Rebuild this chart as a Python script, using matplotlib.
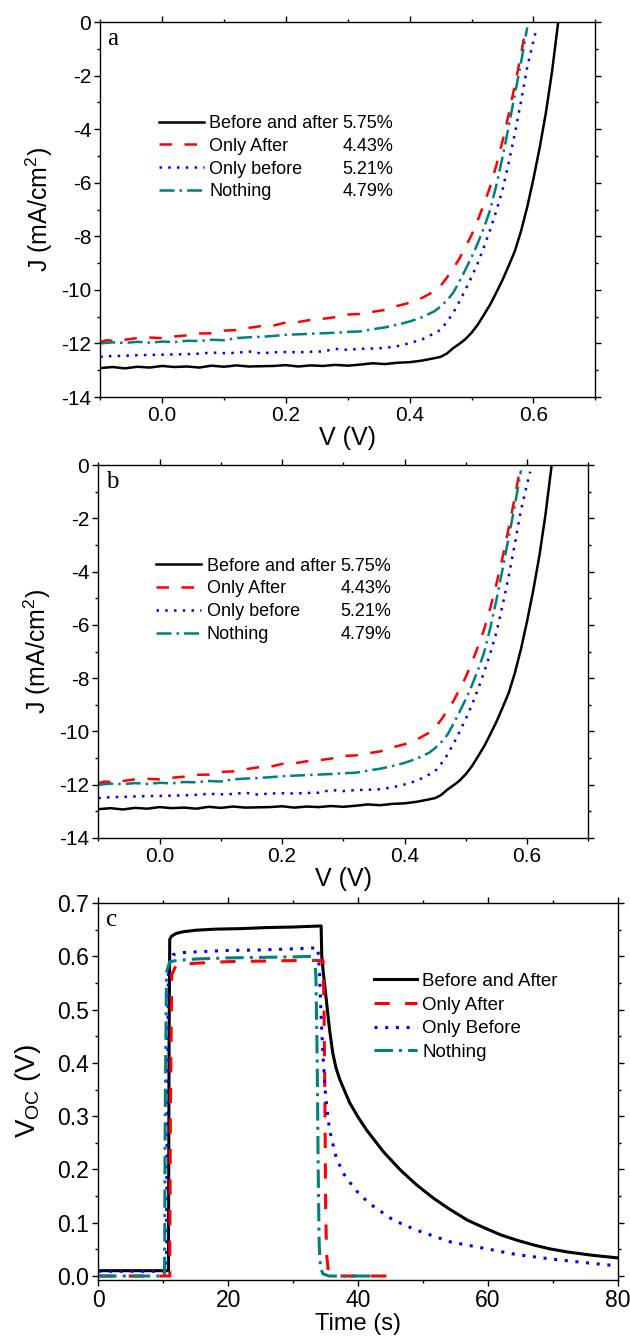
import matplotlib
matplotlib.use("Agg")
import matplotlib.pyplot as plt
from matplotlib.lines import Line2D
from matplotlib.ticker import MultipleLocator, FormatStrFormatter

plt.rcParams['font.family'] = ['Liberation Sans', 'DejaVu Sans']
plt.rcParams['mathtext.fontset'] = 'custom'
plt.rcParams['mathtext.rm'] = 'Liberation Sans'
plt.rcParams['mathtext.it'] = 'Liberation Sans:italic'
plt.rcParams['axes.unicode_minus'] = False

# ---------------- J-V data (panels a and b) ----------------
v_both = [-0.10, -0.08, -0.06, -0.04, -0.02, 0.00, 0.02, 0.04, 0.06, 0.08, 0.10, 0.12,
          0.14, 0.16, 0.18, 0.20, 0.22, 0.24, 0.26, 0.28, 0.30, 0.32, 0.34, 0.36, 0.38,
          0.40, 0.42, 0.44, 0.45, 0.46, 0.47, 0.48, 0.49, 0.50, 0.51, 0.52, 0.53, 0.54,
          0.55, 0.56, 0.57, 0.58, 0.59, 0.60, 0.61, 0.62, 0.63, 0.64]
j_both = [-12.92, -12.88, -12.93, -12.87, -12.90, -12.84, -12.88, -12.86, -12.90, -12.83,
          -12.87, -12.82, -12.86, -12.85, -12.84, -12.81, -12.86, -12.82, -12.84, -12.80,
          -12.83, -12.79, -12.74, -12.77, -12.72, -12.70, -12.64, -12.55, -12.50, -12.38,
          -12.18, -12.02, -11.84, -11.60, -11.30, -10.93, -10.55, -10.10, -9.63, -9.10,
          -8.55, -7.80, -6.90, -5.85, -4.70, -3.40, -1.85, 0.00]

v_after = [-0.10, -0.09, -0.08, -0.07, -0.06, -0.04, -0.02, 0.00, 0.02, 0.04, 0.06, 0.08,
           0.10, 0.12, 0.14, 0.16, 0.18, 0.20, 0.22, 0.24, 0.26, 0.28, 0.30, 0.32, 0.34,
           0.36, 0.38, 0.40, 0.42, 0.44, 0.45, 0.46, 0.47, 0.48, 0.49, 0.50, 0.51, 0.52,
           0.53, 0.54, 0.55, 0.56, 0.57, 0.58, 0.587]
j_after = [-11.95, -11.88, -11.90, -11.82, -11.86, -11.80, -11.78, -11.80, -11.74, -11.70,
           -11.63, -11.62, -11.52, -11.50, -11.42, -11.35, -11.33, -11.22, -11.20, -11.12,
           -11.08, -11.02, -10.92, -10.90, -10.82, -10.75, -10.60, -10.48, -10.30, -10.05,
           -9.85, -9.55, -9.20, -8.85, -8.40, -7.95, -7.40, -6.80, -6.15, -5.35, -4.45,
           -3.45, -2.35, -1.20, -0.30]

v_before = [-0.10, -0.08, -0.06, -0.04, -0.02, 0.00, 0.02, 0.04, 0.06, 0.08, 0.10, 0.12,
            0.14, 0.16, 0.18, 0.20, 0.22, 0.24, 0.26, 0.28, 0.30, 0.32, 0.34, 0.36, 0.38,
            0.40, 0.42, 0.44, 0.45, 0.46, 0.47, 0.48, 0.49, 0.50, 0.51, 0.52, 0.53, 0.54,
            0.55, 0.56, 0.57, 0.58, 0.59, 0.60, 0.605]
j_before = [-12.50, -12.47, -12.46, -12.44, -12.43, -12.42, -12.41, -12.40, -12.38, -12.34,
            -12.36, -12.35, -12.30, -12.37, -12.33, -12.32, -12.33, -12.31, -12.30, -12.20,
            -12.24, -12.20, -12.19, -12.17, -12.10, -11.99, -11.85, -11.62, -11.49, -11.20,
            -10.87, -10.45, -10.00, -9.52, -9.00, -8.40, -7.76, -7.05, -6.27, -5.25, -4.16,
            -2.95, -1.68, -0.70, -0.25]

v_none = [-0.10, -0.08, -0.06, -0.04, -0.02, 0.00, 0.02, 0.04, 0.06, 0.08, 0.10, 0.12,
          0.14, 0.16, 0.18, 0.20, 0.22, 0.24, 0.26, 0.28, 0.30, 0.32, 0.34, 0.36, 0.38,
          0.40, 0.42, 0.44, 0.45, 0.46, 0.47, 0.48, 0.49, 0.50, 0.51, 0.52, 0.53, 0.54,
          0.55, 0.56, 0.57, 0.58, 0.59]
j_none = [-12.00, -11.96, -11.98, -11.94, -11.97, -11.93, -11.95, -11.90, -11.91, -11.86,
          -11.88, -11.80, -11.77, -11.75, -11.72, -11.68, -11.66, -11.64, -11.62, -11.60,
          -11.57, -11.55, -11.47, -11.40, -11.30, -11.18, -11.02, -10.80, -10.62, -10.40,
          -10.12, -9.70, -9.25, -8.78, -8.26, -7.68, -7.02, -6.10, -5.05, -3.90, -2.70,
          -1.50, -0.20]

jv_names = ['Before and after', 'Only After', 'Only before', 'Nothing']
jv_pce = ['5.75%', '4.43%', '5.21%', '4.79%']

# ---------------- Voc transient data (panel c) ----------------
t_both = [0, 5, 10.8, 10.9, 11.0, 11.3, 12, 13, 15, 18, 22, 26, 30, 34.3, 34.4, 34.6,
          35.1, 35.6, 36.1, 36.6, 37.2, 38.0, 38.7, 40.0, 41.3, 43.9, 46.5, 49.0, 51.6,
          54.0, 56.8, 59.5, 62.0, 64.5, 67.1, 69.5, 72.3, 76.0, 80]
voc_both = [0.010, 0.010, 0.010, 0.45, 0.632, 0.638, 0.643, 0.646, 0.649, 0.651, 0.652,
            0.654, 0.655, 0.657, 0.60, 0.574, 0.518, 0.462, 0.418, 0.390, 0.368, 0.345,
            0.325, 0.298, 0.274, 0.233, 0.199, 0.171, 0.146, 0.126, 0.105, 0.090, 0.077,
            0.067, 0.058, 0.051, 0.045, 0.039, 0.034]

t_after = [0, 11.0, 11.1, 11.3, 12, 15, 20, 25, 30, 34.6, 34.75, 34.9, 35.0, 35.15,
           35.4, 35.8, 36.5, 40, 46.2]
voc_after = [0.0, 0.0, 0.3, 0.565, 0.584, 0.587, 0.590, 0.591, 0.592, 0.592, 0.50, 0.30,
             0.12, 0.04, 0.01, 0.002, 0.0, 0.0, 0.0]

t_before = [0, 10.5, 10.6, 10.8, 11.5, 13, 16, 20, 25, 30, 33.8, 34.06, 34.3, 34.6, 35.0,
            35.6, 36.6, 37.7, 39.0, 40.3, 42.1, 45.4, 49.0, 54.2, 59.4, 64.5, 69.7, 75.0,
            80]
voc_before = [0.009, 0.009, 0.3, 0.58, 0.603, 0.607, 0.609, 0.611, 0.612, 0.614, 0.616,
              0.568, 0.486, 0.411, 0.336, 0.274, 0.223, 0.193, 0.171, 0.152, 0.133,
              0.105, 0.086, 0.064, 0.052, 0.040, 0.032, 0.025, 0.019]

t_none = [0, 10.2, 10.3, 10.5, 11, 12, 15, 20, 25, 30, 33.3, 33.5, 33.7, 33.85, 34.0,
          34.2, 34.6, 35.5, 43]
voc_none = [0.0, 0.0, 0.3, 0.57, 0.59, 0.592, 0.595, 0.597, 0.598, 0.599, 0.600, 0.56,
            0.40, 0.20, 0.06, 0.015, 0.004, 0.0, 0.0]

voc_names = ['Before and After', 'Only After', 'Only Before', 'Nothing']

# line styles (Origin look)
styles = [dict(color='black', ls='-'),
          dict(color='#ff0000', ls=(0, (5, 5))),
          dict(color='#0000ff', ls=(0, (1, 2.5))),
          dict(color='#008080', ls=(0, (6, 2, 1, 2)))]

fig = plt.figure(figsize=(6.3, 13.44), dpi=100)


def style_axes(ax):
    for s in ax.spines.values():
        s.set_linewidth(1.0)
    ax.tick_params(which='both', direction='out', top=True, right=True, width=1.0)
    ax.tick_params(which='major', length=4)
    ax.tick_params(which='minor', length=2.5)


def jv_panel(rect, letter):
    ax = fig.add_axes(rect)
    lines = []
    for (v, j), st in zip([(v_both, j_both), (v_after, j_after),
                           (v_before, j_before), (v_none, j_none)], styles):
        ln, = ax.plot(v, j, lw=1.8, **st)
        lines.append(ln)
    ax.set_xlim(-0.1, 0.7)
    ax.set_ylim(-14, 0)
    ax.xaxis.set_major_locator(MultipleLocator(0.2))
    ax.xaxis.set_minor_locator(MultipleLocator(0.1))
    ax.xaxis.set_major_formatter(FormatStrFormatter('%.1f'))
    ax.yaxis.set_major_locator(MultipleLocator(2))
    ax.yaxis.set_minor_locator(MultipleLocator(1))
    ax.tick_params(labelsize=15, pad=2.5)
    ax.set_xlabel('V (V)', fontsize=18, labelpad=1)
    ax.set_ylabel(r'J (mA/cm$^\mathrm{2}$)', fontsize=18, labelpad=4)
    style_axes(ax)
    ax.text(0.015, 0.985, letter, transform=ax.transAxes, ha='left', va='top',
            family='Liberation Serif', fontsize=18)
    blanks = [Line2D([], [], color='none') for _ in jv_pce]
    ax.legend(lines + blanks, jv_names + jv_pce, ncol=2, loc='upper left',
              bbox_to_anchor=(0.118, 0.752), frameon=False, fontsize=13,
              handlelength=2.5, handletextpad=0.3, borderpad=0, borderaxespad=0,
              labelspacing=0.32, columnspacing=-2.55)
    return ax


jv_panel([0.159, 0.7046, 0.786, 0.279], 'a')
jv_panel([0.156, 0.3765, 0.778, 0.2775], 'b')

# ---------------- panel c ----------------
axc = fig.add_axes([0.156, 0.0476, 0.825, 0.2805])
lines = []
for (t, v), st in zip([(t_both, voc_both), (t_after, voc_after),
                       (t_before, voc_before), (t_none, voc_none)], styles):
    ln, = axc.plot(t, v, lw=2.2, **st)
    lines.append(ln)
axc.set_xlim(0, 80)
axc.set_ylim(-0.0075, 0.7)
axc.xaxis.set_major_locator(MultipleLocator(20))
axc.xaxis.set_minor_locator(MultipleLocator(10))
axc.yaxis.set_major_locator(MultipleLocator(0.1))
axc.yaxis.set_minor_locator(MultipleLocator(0.05))
axc.yaxis.set_major_formatter(FormatStrFormatter('%.1f'))
axc.tick_params(labelsize=16.5, pad=2.5)
axc.set_xlabel('Time (s)', fontsize=17, labelpad=1)
axc.set_ylabel(r'V$_\mathrm{OC}$ (V)', fontsize=20, labelpad=10)
style_axes(axc)
axc.text(0.015, 0.985, 'c', transform=axc.transAxes, ha='left', va='top',
         family='Liberation Serif', fontsize=18)
axc.legend(lines, voc_names, loc='upper left', bbox_to_anchor=(0.53, 0.815),
           frameon=False, fontsize=13.5, handlelength=2.3, handletextpad=0.3,
           borderpad=0, borderaxespad=0, labelspacing=0.35)

fig.savefig('out.png', dpi=100)
